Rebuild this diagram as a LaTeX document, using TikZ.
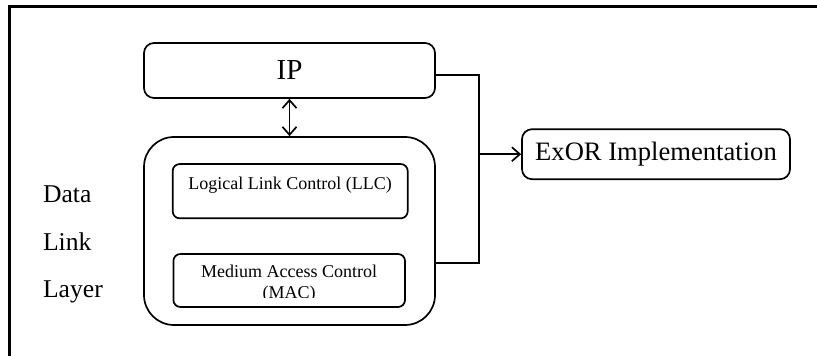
\documentclass[tikz,border=0pt]{standalone}
\usepackage{fontspec}
\setmainfont{Liberation Serif}
\usetikzlibrary{arrows.meta}

\begin{document}
\begin{tikzpicture}[x=0.5pt, y=-0.5pt,
  box/.style={draw=black, line width=0.85pt, inner sep=0pt},
  wire/.style={draw=black, line width=0.85pt},
  >={Straight Barb[length=4pt,width=7pt]}]
\useasboundingbox (0, 0) rectangle (817, 356);
\draw [line width=1.5pt] (817, 6.5) -- (9.5, 6.5) -- (9.5, 356);

\node [box, rounded corners=5pt, minimum width=145.5pt, minimum height=27.5pt, font=\fontsize{14.5}{17}\selectfont] (ip) at (289.5, 70.5) {IP};
\node [box, rounded corners=15pt, minimum width=145.5pt, minimum height=94pt] (dll) at (289.5, 231) {};
\node [box, rounded corners=3.5pt, minimum width=117.5pt, text height=12.65pt, text depth=14.5pt, font=\fontsize{9}{10.5}\selectfont] (llc) at (290.2, 191.2) {Logical Link Control (LLC)};
\node [box, rounded corners=3.5pt, minimum width=115.8pt, minimum height=26.5pt] (mac) at (289.2, 280.5) {};
\begin{scope}
\clip ([yshift=5pt]mac.south west) rectangle (mac.north east);
\node [align=center, inner sep=0pt, font=\fontsize{9}{10.5}\selectfont] (mactext) at (289.2, 284) {Medium Access Control\\(MAC)};
\end{scope}
\node [box, rounded corners=5pt, minimum width=134pt, minimum height=25pt, font=\fontsize{13.3}{16}\selectfont] (exor) at (656, 154.2) {ExOR Implementation};

\node [anchor=base west, inner sep=0pt, font=\fontsize{12.8}{15}\selectfont] (data) at (42.7, 202.3) {Data};
\node [anchor=base west, inner sep=0pt, font=\fontsize{12.8}{15}\selectfont] (link) at (42.7, 250.3) {Link};
\node [anchor=base west, inner sep=0pt, font=\fontsize{12.8}{15}\selectfont] (layer) at (42.7, 297.6) {Layer};

\draw [wire, <->] (ip.south) -- (dll.north);
\coordinate (bus) at (479.3, 170);
\draw [wire] ([yshift=-2.25pt]ip.east) -| (bus) |- ([yshift=-16pt]dll.east);
\draw [wire, ->] (bus |- exor.west) -- (exor.west);
\end{tikzpicture}
\end{document}
